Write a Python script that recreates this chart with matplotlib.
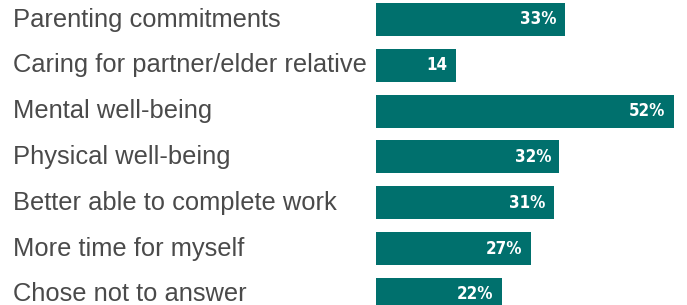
import matplotlib
matplotlib.use("Agg")
import matplotlib.pyplot as plt
import matplotlib.transforms as mtransforms

categories = [
    "Parenting commitments",
    "Caring for partner/elder relative",
    "Mental well-being",
    "Physical well-being",
    "Better able to complete work",
    "More time for myself",
    "Chose not to answer",
]
values = [33, 14, 52, 32, 31, 27, 22]
value_labels = ["33%", "14", "52%", "32%", "31%", "27%", "22%"]

W, H = 687, 305
fig = plt.figure(figsize=(W / 100, H / 100), dpi=100)
fig.patch.set_facecolor("white")

left_px = 376
right_px = 674
ax = fig.add_axes([left_px / W, 0, (right_px - left_px) / W, 1])
ax.set_xlim(0, max(values))
unit = 45.83
ax.set_ylim((H - 19.5) / unit, -19.5 / unit)
ax.axis("off")

bar_color = "#00706D"
pos = list(range(len(categories)))
ax.barh(pos, values, height=33 / unit, color=bar_color, align="center")

trans = mtransforms.blended_transform_factory(fig.transFigure, ax.transData)
for p, cat in zip(pos, categories):
    ax.text(13 / W, p, cat, transform=trans, ha="left", va="center",
            fontsize=18.4, color="#4a4a4a", family="Liberation Sans")

for p, v, lab in zip(pos, values, value_labels):
    ax.annotate(lab, xy=(v, p), xytext=(-6, 0), textcoords="offset points",
                ha="right", va="center", fontsize=12.2, fontweight="bold",
                color="white", family="DejaVu Sans", fontstretch="condensed")

fig.savefig("out.png", dpi=100)
